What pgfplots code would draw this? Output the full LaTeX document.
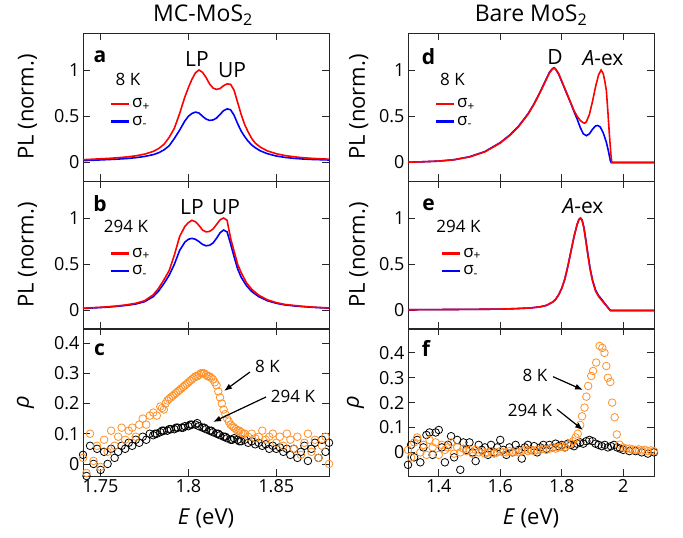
\documentclass[border=0pt]{standalone}
\usepackage{fontspec}
\setmainfont{Open Sans}
\usepackage{pgfplots}
\pgfplotsset{compat=1.18}
\usetikzlibrary{arrows.meta}
\definecolor{orng}{RGB}{255,145,40}

\pgfplotsset{
  panel/.style={scale only axis, width=246pt, height=148pt, anchor=south west,
    axis line style={line width=0.8pt, black!85}, tick style={line width=0.8pt, black!85},
    major tick length=7pt, tick align=inside,
    ticklabel style={font=\fontsize{18}{20}\selectfont},
    /pgf/number format/assume math mode=true,
    every axis x label/.style={at={(axis description cs:0.5,0)}, anchor=base, yshift=-49pt,
      font=\fontsize{22}{24}\selectfont},
  },
  ylab/.style={every axis y label/.style={at={(axis description cs:#1,0.5)}, rotate=90, anchor=center,
      font=\fontsize{22}{24}\selectfont}},
  plpanel/.style={panel, ymin=-0.2, ymax=1.4, ytick={0,0.5,1}, xticklabels={}, ylabel={PL (norm.)},
    legend style={draw=none, fill=none, font=\fontsize{17}{19}\selectfont, at={(0.095,0.585)}, anchor=north west, row sep=3pt},
    legend cell align=left,
    legend image code/.code={\draw[##1, line width=2.6pt] (0pt,0pt) -- (18pt,0pt);}},
  leftx/.style={xmin=1.74, xmax=1.88, xtick={1.75,1.8,1.85}},
  rightx/.style={xmin=1.3, xmax=2.1, xtick={1.4,1.6,1.8,2}},
  spec/.style={line width=1.6pt, no marks},
  circ/.style={only marks, mark=o, mark size=3.8pt, mark options={line width=0.8pt}},
}

\begin{document}
\begin{tikzpicture}[x=1pt, y=1pt]
\path[use as bounding box] (0,0) rectangle (683,538);

% ---------- a: MC-MoS2, 8 K
\begin{axis}[plpanel, leftx, ylab=-0.226, at={(83pt,357pt)}]
\addlegendimage{red}\addlegendentry{σ\textsubscript{+}}
\addlegendimage{blue}\addlegendentry{σ\textsubscript{-}}
\addplot[spec, blue, forget plot] coordinates {
(1.740,0.020) (1.745,0.024) (1.750,0.028) (1.755,0.032) (1.760,0.037) (1.765,0.043) (1.770,0.052) (1.775,0.065)
(1.780,0.085) (1.783,0.105) (1.786,0.135) (1.789,0.180) (1.792,0.260) (1.795,0.350) (1.798,0.450) (1.800,0.500)
(1.802,0.530) (1.804,0.545) (1.806,0.535) (1.808,0.500) (1.810,0.470) (1.812,0.455) (1.814,0.460) (1.816,0.480)
(1.818,0.520) (1.820,0.560) (1.822,0.580) (1.824,0.570) (1.826,0.510) (1.828,0.420) (1.830,0.340) (1.832,0.280)
(1.834,0.230) (1.836,0.190) (1.838,0.160) (1.841,0.125) (1.845,0.095) (1.850,0.070) (1.855,0.055) (1.860,0.045)
(1.865,0.038) (1.870,0.033) (1.875,0.030) (1.880,0.027)};
\addplot[spec, red, forget plot] coordinates {
(1.740,0.030) (1.745,0.035) (1.750,0.040) (1.755,0.045) (1.760,0.052) (1.765,0.060) (1.770,0.072) (1.775,0.090)
(1.780,0.120) (1.783,0.150) (1.786,0.195) (1.789,0.270) (1.792,0.370) (1.795,0.530) (1.798,0.710) (1.800,0.810)
(1.802,0.900) (1.804,0.970) (1.806,1.000) (1.808,0.975) (1.810,0.920) (1.812,0.850) (1.814,0.805) (1.816,0.790)
(1.818,0.800) (1.820,0.830) (1.822,0.850) (1.824,0.845) (1.826,0.780) (1.828,0.650) (1.830,0.520) (1.832,0.410)
(1.834,0.330) (1.836,0.260) (1.838,0.210) (1.841,0.165) (1.845,0.125) (1.850,0.095) (1.855,0.075) (1.860,0.062)
(1.865,0.052) (1.870,0.045) (1.875,0.040) (1.880,0.036)};
\end{axis}

% ---------- b: MC-MoS2, 294 K
\begin{axis}[plpanel, leftx, ylab=-0.226, at={(83pt,209pt)}, legend style={at={(0.095,0.575)}}]
\addlegendimage{red}\addlegendentry{σ\textsubscript{+}}
\addlegendimage{blue}\addlegendentry{σ\textsubscript{-}}
\addplot[spec, blue, forget plot] coordinates {
(1.740,0.022) (1.745,0.027) (1.750,0.032) (1.755,0.038) (1.760,0.046) (1.765,0.056) (1.770,0.070) (1.775,0.095)
(1.780,0.150) (1.783,0.210) (1.786,0.290) (1.789,0.380) (1.792,0.500) (1.795,0.650) (1.798,0.740) (1.800,0.770)
(1.802,0.780) (1.804,0.770) (1.806,0.745) (1.808,0.715) (1.810,0.700) (1.812,0.705) (1.814,0.730) (1.816,0.780)
(1.818,0.840) (1.820,0.870) (1.822,0.850) (1.824,0.720) (1.826,0.580) (1.828,0.450) (1.830,0.360) (1.833,0.270)
(1.836,0.205) (1.840,0.150) (1.845,0.105) (1.850,0.078) (1.855,0.060) (1.860,0.050) (1.865,0.042) (1.870,0.035)
(1.875,0.030) (1.880,0.026)};
\addplot[spec, red, forget plot] coordinates {
(1.740,0.025) (1.745,0.030) (1.750,0.035) (1.755,0.042) (1.760,0.050) (1.765,0.062) (1.770,0.078) (1.775,0.105)
(1.780,0.170) (1.783,0.240) (1.786,0.330) (1.789,0.430) (1.792,0.600) (1.795,0.800) (1.798,0.910) (1.800,0.950)
(1.802,0.975) (1.804,0.960) (1.806,0.920) (1.808,0.870) (1.810,0.850) (1.812,0.855) (1.814,0.880) (1.816,0.930)
(1.818,0.980) (1.820,1.000) (1.822,0.975) (1.824,0.780) (1.826,0.640) (1.828,0.500) (1.830,0.410) (1.833,0.300)
(1.836,0.230) (1.840,0.165) (1.845,0.115) (1.850,0.085) (1.855,0.065) (1.860,0.055) (1.865,0.045) (1.870,0.038)
(1.875,0.032) (1.880,0.028)};
\end{axis}

% ---------- c: polarization, MC-MoS2
\begin{axis}[panel, leftx, ylab=-0.234, at={(83pt,62pt)}, ymin=-0.04, ymax=0.45,
  ytick={0,0.1,0.2,0.3,0.4}, xlabel={\textit{E} (eV)}, ylabel={\textit{ρ}}]
\addplot[circ, black] coordinates {
(1.740,0.03) (1.742,-0.04) (1.744,0.06) (1.746,0.00) (1.748,0.05) (1.750,-0.02) (1.752,0.04) (1.754,0.00)
(1.756,0.05) (1.758,0.02) (1.760,0.04) (1.762,0.06) (1.764,0.05) (1.766,0.07) (1.768,0.06) (1.770,0.08)
(1.772,0.07) (1.774,0.09) (1.776,0.08) (1.778,0.10) (1.780,0.095) (1.782,0.10) (1.784,0.105) (1.786,0.11)
(1.788,0.11) (1.790,0.115) (1.792,0.115) (1.794,0.12) (1.796,0.12) (1.798,0.125) (1.800,0.125) (1.802,0.13)
(1.804,0.13) (1.806,0.125) (1.808,0.12) (1.810,0.115) (1.812,0.11) (1.814,0.105) (1.816,0.10) (1.818,0.095)
(1.820,0.09) (1.822,0.085) (1.824,0.08) (1.826,0.085) (1.828,0.08) (1.830,0.075) (1.832,0.08) (1.834,0.07)
(1.836,0.075) (1.838,0.065) (1.840,0.07) (1.842,0.06) (1.844,0.065) (1.846,0.05) (1.848,0.06) (1.850,0.05)
(1.852,0.055) (1.854,0.04) (1.856,0.05) (1.858,0.03) (1.860,0.05) (1.862,0.02) (1.864,0.04) (1.866,0.06)
(1.868,0.01) (1.870,0.05) (1.872,0.07) (1.874,0.02) (1.876,0.08) (1.878,0.04) (1.880,0.07)
(1.781,0.10) (1.785,0.11) (1.789,0.115) (1.793,0.12) (1.797,0.12) (1.801,0.13) (1.805,0.135) (1.809,0.12)
(1.813,0.11) (1.817,0.10) (1.821,0.09) (1.825,0.08) (1.829,0.075)};
\addplot[circ, orng] coordinates {
(1.740,0.02) (1.742,-0.03) (1.744,0.10) (1.746,0.01) (1.748,0.06) (1.750,-0.01) (1.752,0.08) (1.754,0.04)
(1.756,0.11) (1.758,0.06) (1.760,0.09) (1.762,0.12) (1.764,0.08) (1.766,0.11) (1.768,0.12) (1.770,0.09)
(1.772,0.13) (1.774,0.15) (1.776,0.13) (1.778,0.16) (1.780,0.17) (1.782,0.16) (1.784,0.19) (1.786,0.18)
(1.788,0.21) (1.790,0.22) (1.792,0.23) (1.794,0.24) (1.796,0.25) (1.798,0.26) (1.800,0.27) (1.802,0.28)
(1.804,0.29) (1.806,0.295) (1.808,0.30) (1.810,0.295) (1.812,0.29) (1.814,0.28) (1.816,0.26) (1.818,0.22)
(1.820,0.18) (1.822,0.15) (1.824,0.13) (1.826,0.12) (1.828,0.11) (1.830,0.105) (1.832,0.10) (1.834,0.09)
(1.836,0.10) (1.838,0.085) (1.840,0.09) (1.842,0.11) (1.844,0.08) (1.846,0.09) (1.848,0.10) (1.850,0.07)
(1.852,0.09) (1.854,0.06) (1.856,0.10) (1.858,0.08) (1.860,0.05) (1.862,0.09) (1.864,0.03) (1.866,0.07)
(1.868,0.10) (1.870,0.04) (1.872,0.08) (1.874,0.02) (1.876,0.06) (1.878,0.09) (1.880,0.00)
(1.785,0.185) (1.787,0.20) (1.789,0.215) (1.791,0.225) (1.793,0.235) (1.795,0.245) (1.797,0.255) (1.799,0.265)
(1.801,0.275) (1.803,0.285) (1.805,0.29) (1.807,0.30) (1.809,0.30) (1.811,0.29) (1.813,0.285) (1.815,0.27)
(1.817,0.24) (1.819,0.20) (1.821,0.165) (1.823,0.14) (1.825,0.125) (1.827,0.115) (1.829,0.11) (1.831,0.10)};
\end{axis}

% ---------- d: bare MoS2, 8 K
\begin{axis}[plpanel, rightx, ylab=-0.2, at={(408pt,357pt)}]
\addlegendimage{red}\addlegendentry{σ\textsubscript{+}}
\addlegendimage{blue}\addlegendentry{σ\textsubscript{-}}
\addplot[spec, blue, forget plot] coordinates {
(1.30,0.003) (1.35,0.008) (1.40,0.015) (1.45,0.030) (1.50,0.062) (1.55,0.118) (1.60,0.215) (1.63,0.295)
(1.66,0.395) (1.69,0.525) (1.71,0.635) (1.73,0.765) (1.75,0.905) (1.76,0.975) (1.77,1.015) (1.775,1.025)
(1.78,1.010) (1.79,0.955) (1.80,0.875) (1.81,0.795) (1.82,0.715) (1.83,0.635) (1.84,0.550) (1.85,0.470)
(1.86,0.380) (1.87,0.310) (1.88,0.290) (1.89,0.310) (1.90,0.360) (1.91,0.395) (1.917,0.400) (1.925,0.385)
(1.935,0.320) (1.945,0.220) (1.952,0.120) (1.958,0.020) (1.961,0.0) (2.00,0.0) (2.10,0.0)};
\addplot[spec, red, forget plot] coordinates {
(1.30,0.003) (1.35,0.008) (1.40,0.015) (1.45,0.030) (1.50,0.060) (1.55,0.115) (1.60,0.210) (1.63,0.290)
(1.66,0.390) (1.69,0.520) (1.71,0.630) (1.73,0.760) (1.75,0.900) (1.76,0.970) (1.77,1.010) (1.775,1.020)
(1.78,1.010) (1.79,0.960) (1.80,0.880) (1.81,0.800) (1.82,0.720) (1.83,0.640) (1.84,0.560) (1.85,0.500)
(1.86,0.455) (1.87,0.430) (1.875,0.425) (1.88,0.440) (1.89,0.520) (1.90,0.660) (1.91,0.820) (1.92,0.950)
(1.928,1.000) (1.935,0.960) (1.94,0.880) (1.945,0.780) (1.95,0.550) (1.955,0.300) (1.960,0.080) (1.963,0.0)
(2.00,0.0) (2.10,0.0)};
\end{axis}

% ---------- e: bare MoS2, 294 K
\begin{axis}[plpanel, rightx, ylab=-0.2, at={(408pt,209pt)}, legend style={at={(0.12,0.575)}}]
\addlegendimage{red}\addlegendentry{σ\textsubscript{+}}
\addlegendimage{blue}\addlegendentry{σ\textsubscript{-}}
\addplot[spec, blue, forget plot] coordinates {
(1.30,0.008) (1.40,0.010) (1.50,0.012) (1.60,0.015) (1.65,0.020) (1.70,0.028) (1.73,0.040) (1.75,0.055)
(1.77,0.090) (1.78,0.120) (1.79,0.170) (1.80,0.240) (1.81,0.340) (1.82,0.480) (1.83,0.640) (1.84,0.800)
(1.85,0.930) (1.856,0.985) (1.861,1.000) (1.866,0.980) (1.872,0.900) (1.878,0.770) (1.885,0.610) (1.892,0.460)
(1.90,0.330) (1.91,0.220) (1.92,0.160) (1.93,0.120) (1.94,0.075) (1.95,0.035) (1.958,0.0) (2.00,0.0) (2.10,0.0)};
\addplot[spec, red, forget plot] coordinates {
(1.30,0.008) (1.40,0.010) (1.50,0.012) (1.60,0.015) (1.65,0.020) (1.70,0.028) (1.73,0.040) (1.75,0.055)
(1.77,0.090) (1.78,0.120) (1.79,0.170) (1.80,0.240) (1.81,0.340) (1.82,0.480) (1.83,0.640) (1.84,0.800)
(1.85,0.930) (1.856,0.985) (1.861,1.000) (1.866,0.975) (1.872,0.890) (1.878,0.760) (1.885,0.600) (1.892,0.450)
(1.90,0.320) (1.91,0.210) (1.92,0.150) (1.93,0.110) (1.94,0.070) (1.95,0.030) (1.958,0.0) (2.00,0.0) (2.10,0.0)};
\end{axis}

% ---------- f: polarization, bare MoS2
\begin{axis}[panel, rightx, ylab=-0.213, at={(408pt,62pt)}, ymin=-0.095, ymax=0.5,
  ytick={0,0.1,0.2,0.3,0.4}, xlabel={\textit{E} (eV)}, ylabel={\textit{ρ}}]
\addplot[circ, black] coordinates {
(1.30,-0.05) (1.31,0.03) (1.32,-0.02) (1.33,0.05) (1.34,-0.04) (1.35,0.02) (1.36,0.07) (1.37,0.08)
(1.38,-0.01) (1.39,0.08) (1.40,0.09) (1.41,0.02) (1.42,-0.04) (1.43,0.03) (1.44,0.065) (1.45,-0.02)
(1.46,0.05) (1.47,-0.07) (1.48,0.04) (1.49,0.01) (1.50,0.04) (1.51,0.00) (1.52,-0.035) (1.53,0.03)
(1.54,0.01) (1.55,0.02) (1.56,-0.01) (1.57,0.03) (1.58,0.00) (1.59,0.02) (1.60,0.05) (1.61,0.01)
(1.62,-0.01) (1.63,0.02) (1.64,0.00) (1.65,0.03) (1.66,0.01) (1.67,-0.025) (1.68,0.02) (1.69,0.03)
(1.70,0.01) (1.71,0.025) (1.72,0.00) (1.73,0.02) (1.74,0.03) (1.75,0.015) (1.76,0.03) (1.77,0.02)
(1.78,0.035) (1.79,0.025) (1.80,0.03) (1.81,0.02) (1.82,0.035) (1.83,0.03) (1.84,0.025) (1.85,0.035)
(1.86,0.04) (1.87,0.035) (1.88,0.045) (1.89,0.05) (1.90,0.045) (1.91,0.035) (1.92,0.03) (1.93,0.025)
(1.94,0.03) (1.95,0.02) (1.96,0.025) (1.97,0.03) (1.98,0.02) (1.99,0.015) (2.00,0.01) (2.02,0.005)
(2.04,0.005) (2.06,0.00) (2.08,-0.005) (2.10,0.00)};
\addplot[circ, orng] coordinates {
(1.30,0.01) (1.31,-0.02) (1.32,0.04) (1.33,0.06) (1.34,0.00) (1.35,0.03) (1.36,-0.01) (1.37,0.05)
(1.38,0.02) (1.39,0.04) (1.40,-0.01) (1.41,0.03) (1.42,0.01) (1.43,0.02) (1.44,0.04) (1.45,-0.005)
(1.46,0.02) (1.47,0.00) (1.48,0.015) (1.49,0.005) (1.50,0.01) (1.51,-0.005) (1.52,0.01) (1.53,0.00)
(1.54,0.005) (1.55,-0.005) (1.56,0.00) (1.57,0.005) (1.58,-0.005) (1.59,0.00) (1.60,0.005) (1.61,0.00)
(1.62,0.00) (1.63,0.005) (1.64,0.00) (1.65,0.005) (1.66,0.00) (1.67,0.005) (1.68,0.01) (1.69,0.005)
(1.70,0.01) (1.71,0.005) (1.72,0.01) (1.73,0.01) (1.74,0.015) (1.75,0.01) (1.76,0.015) (1.77,0.02)
(1.78,0.015) (1.79,0.02) (1.80,0.025) (1.81,0.02) (1.82,0.03) (1.83,0.035) (1.837,0.045) (1.845,0.06)
(1.852,0.075) (1.86,0.11) (1.866,0.145) (1.874,0.18) (1.880,0.224) (1.886,0.267) (1.896,0.307) (1.902,0.327)
(1.912,0.361) (1.923,0.428) (1.932,0.42) (1.939,0.40) (1.945,0.347) (1.950,0.30) (1.958,0.283) (1.964,0.20)
(1.972,0.141) (1.979,0.072) (1.988,0.031) (1.999,0.02) (2.01,0.015) (2.02,0.015) (2.03,0.012) (2.04,0.01)
(2.05,0.012) (2.06,0.008) (2.07,0.01) (2.08,0.005) (2.09,0.008) (2.10,0.005)};
\end{axis}

% ---------- titles, panel letters and annotations
\node[font=\fontsize{23}{25}\selectfont, anchor=base] at (203,516) {MC-MoS\textsubscript{2}};
\node[font=\fontsize{23}{25}\selectfont, anchor=base] at (531,516) {Bare MoS\textsubscript{2}};

\begin{scope}[every node/.style={font=\fontsize{21}{23}\selectfont\bfseries}]
\node at (100,481) {a};
\node at (100,334) {b};
\node at (99.5,188) {c};
\node at (428.5,481) {d};
\node at (428.5,333) {e};
\node at (426,189.5) {f};
\end{scope}

\begin{scope}[every node/.style={font=\fontsize{17}{19}\selectfont}]
\node at (128,459) {8 K};
\node at (126,312) {294 K};
\node at (452.5,459) {8 K};
\node at (458.5,312) {294 K};
\node at (267.5,171.5) {8 K};
\node at (293,141.5) {294 K};
\node at (535,163) {8 K};
\node at (530,128) {294 K};
\end{scope}

\begin{scope}[every node/.style={font=\fontsize{21}{23}\selectfont}]
\node at (197,478.5) {LP};
\node at (232,468) {UP};
\node at (192,330.5) {LP};
\node at (226,330.5) {UP};
\node at (555,481) {D};
\node at (603,480) {\textit{A}-ex};
\node at (583,331.5) {\textit{A}-ex};
\end{scope}

\begin{scope}[line width=1.2pt, -{Latex[length=8pt, width=6pt]}]
\draw (250,166) -- (224,147);
\draw (266,141) -- (213,116);
\draw (553,161.3) -- (583,148);
\draw (557,128.7) -- (583,108);
\end{scope}
\end{tikzpicture}
\end{document}
